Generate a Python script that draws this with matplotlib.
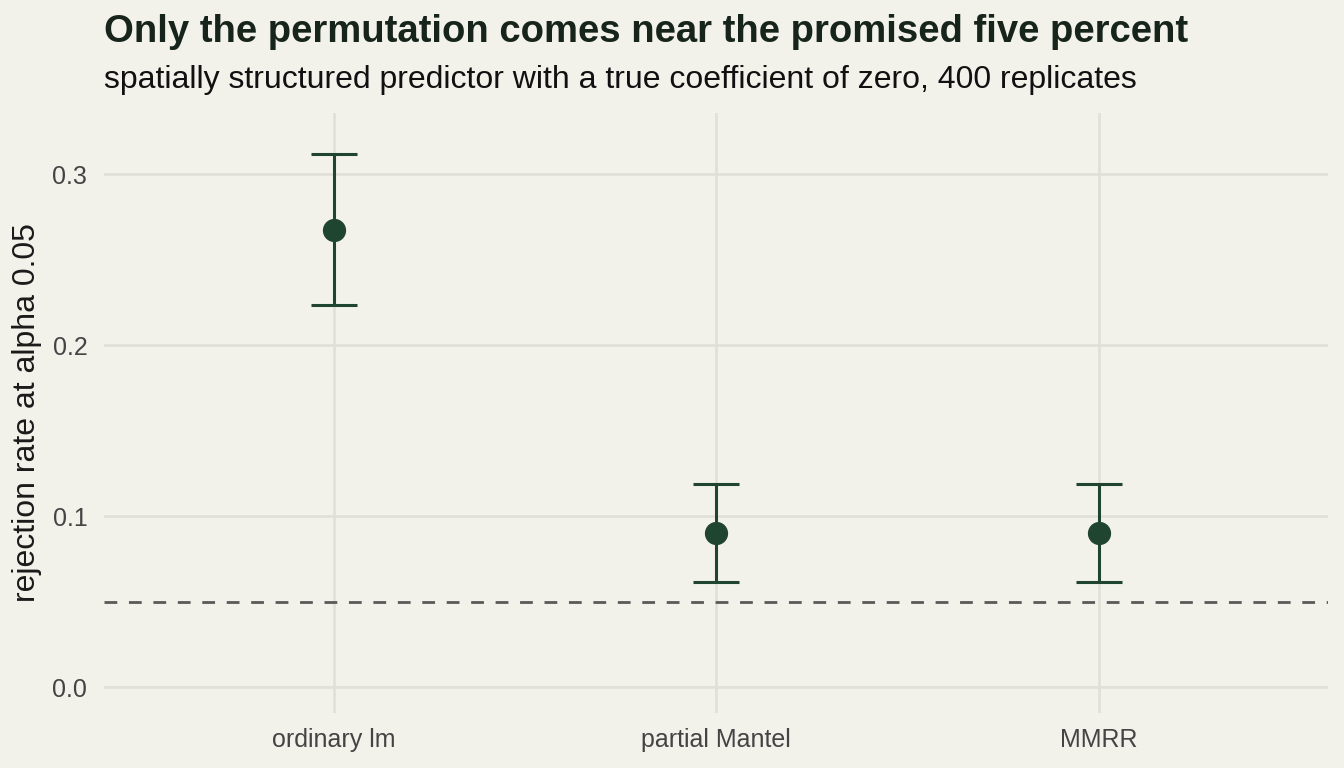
import matplotlib
matplotlib.use("Agg")
import matplotlib.pyplot as plt

methods = ["ordinary lm", "partial Mantel", "MMRR"]
rate = [0.2675, 0.090, 0.090]
ci_low = [0.2234, 0.0616, 0.0616]
ci_high = [0.3117, 0.1187, 0.1187]
alpha_level = 0.05
yticks = [0.0, 0.1, 0.2, 0.3]

BG = "#F2F1EA"
GRID = "#E1E0D7"
DARK = "#1F4430"

plt.rcParams['font.family'] = ['Liberation Sans', 'DejaVu Sans']

fig = plt.figure(figsize=(13.44, 7.68), dpi=100, facecolor=BG)
ax = fig.add_axes([104/1344, 1-713/768, (1328-104)/1344, (713-113)/768])
ax.set_facecolor(BG)

x = list(range(1, len(methods)+1))
lower = [r - l for r, l in zip(rate, ci_low)]
upper = [h - r for r, h in zip(rate, ci_high)]
ax.axhline(alpha_level, color="#5a5a5a", linestyle=(0, (4.6, 4.2)), linewidth=2.0, zorder=2)
ax.errorbar(x, rate, yerr=[lower, upper], fmt='none', ecolor=DARK, elinewidth=2.2,
            capsize=16.5, capthick=2.2, zorder=3)
ax.scatter(x, rate, s=280, color=DARK, zorder=4, linewidths=0)

ax.set_xlim(0.4, 3.6)
ax.set_ylim(-0.0152, 0.3357)
ax.set_xticks(x)
ax.set_xticklabels(methods)
ax.set_yticks(yticks)
ax.set_yticklabels([f"{v:.1f}" for v in yticks])
ax.grid(True, color=GRID, linewidth=1.9)
ax.set_axisbelow(True)
for s in ax.spines.values():
    s.set_visible(False)
ax.tick_params(length=0, labelsize=18, labelcolor="#444444", pad=12)
ax.tick_params(axis='x', pad=11)
ax.set_ylabel("rejection rate at alpha 0.05", fontsize=23, color="#1a1a1a")
ax.yaxis.set_label_coords(-0.0507, 0.5)

fig.text(104/1344, 1-32/768, "Only the permutation comes near the promised five percent",
         fontsize=27.5, fontweight='bold', color="#16241C", va='center', ha='left')
fig.text(104/1344, 1-80/768, "spatially structured predictor with a true coefficient of zero, 400 replicates",
         fontsize=23, color="#111111", va='center', ha='left')

fig.savefig("out.png", dpi=100, facecolor=BG)
